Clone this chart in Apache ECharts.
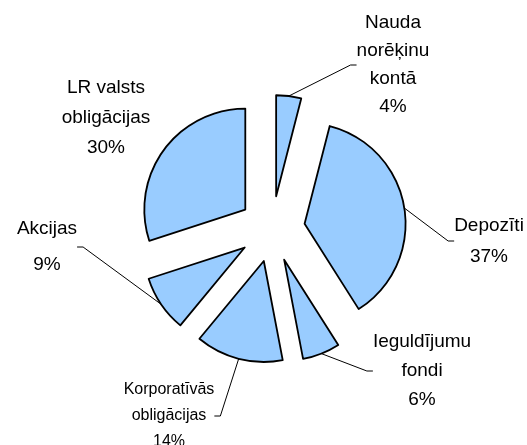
<!DOCTYPE html>
<html>
<head>
<meta charset="utf-8">
<script src="https://cdn.jsdelivr.net/npm/echarts@6/dist/echarts.min.js"></script>
<style>
html, body { margin: 0; padding: 0; background: #fff; }
#chart { width: 527px; height: 445px; }
</style>
</head>
<body>
<div id="chart"></div>
<script>
// kategorijas un procenti
var names = [
    'Nauda\nnorēķinu\nkontā',
    'Depozīti',
    'Ieguldījumu\nfondi',
    'Korporatīvās\nobligācijas',
    'Akcijas',
    'LR valsts\nobligācijas'
];
var values = [4, 37, 6, 14, 9, 30];

// label centres and line heights (layout only)
var labelPos = [
    [393, 65],
    [489, 241],
    [422, 371],
    [169, 416],
    [47, 247],
    [106, 118]
];
var labelLH = [28, 31, 29, 26, 36, 30];

var myChart = echarts.init(document.getElementById('chart'));

var pieCenter = [272, 229];

// slices (exploded)
var sliceData = [];
// labels (transparent copy, not exploded)
var labelData = [];
for (var i = 0; i < names.length; i++) {
    sliceData.push({ name: names[i], value: values[i], selected: true });
    var item = {
        name: names[i],
        value: values[i],
        label: { lineHeight: labelLH[i] }
    };
    if (i === 3) {
        item.label.fontSize = 16;
    }
    if (i === 5) {
        item.labelLine = { show: false };
    }
    labelData.push(item);
}

var option = {
    backgroundColor: '#fff',
    animation: false,
    series: [
        {
            type: 'pie',
            center: pieCenter,
            radius: [0, 101],
            startAngle: 90,
            clockwise: true,
            selectedMode: 'multiple',
            selectedOffset: 33,
            silent: true,
            emphasis: { scale: false },
            itemStyle: {
                color: '#99ccff',
                borderColor: '#000',
                borderWidth: 1.8
            },
            select: {
                itemStyle: {
                    color: '#99ccff',
                    borderColor: '#000',
                    borderWidth: 1.8
                }
            },
            label: { show: false },
            labelLine: { show: false },
            data: sliceData
        },
        {
            // tikai etiķetes
            type: 'pie',
            center: pieCenter,
            radius: [0, 134],
            startAngle: 90,
            clockwise: true,
            silent: true,
            avoidLabelOverlap: false,
            emphasis: { scale: false },
            itemStyle: {
                color: 'rgba(0,0,0,0)',
                borderWidth: 0
            },
            label: {
                show: true,
                position: 'outside',
                formatter: '{b}\n{c}%',
                fontFamily: 'Liberation Sans, Arial, sans-serif',
                fontSize: 19,
                color: '#000',
                align: 'center'
            },
            labelLine: {
                show: true,
                length: 15,
                length2: 6,
                smooth: false,
                lineStyle: { color: '#000', width: 1 }
            },
            labelLayout: function (params) {
                var p = labelPos[params.dataIndex];
                return {
                    x: p[0],
                    y: p[1],
                    align: 'center',
                    verticalAlign: 'middle'
                };
            },
            data: labelData
        }
    ]
};

myChart.setOption(option);
window.addEventListener('resize', function () {
    myChart.resize();
});
</script>
</body>
</html>
